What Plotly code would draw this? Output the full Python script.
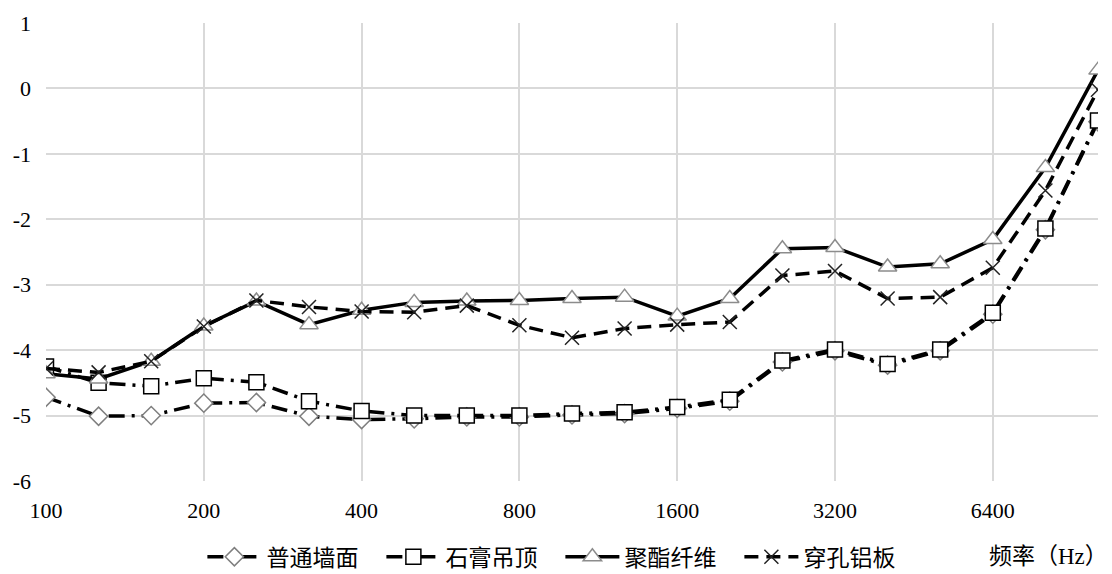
import plotly.graph_objects as go

# 1/3-octave band centre frequencies (Hz)
freqs = [100, 125, 160, 200, 250, 315, 400, 500, 630, 800, 1000, 1250,
         1600, 2000, 2500, 3150, 4000, 5000, 6300, 8000, 10000]
# plot positions on a log axis (exact 1/3-octave spacing)
xpos = [100 * 2 ** (i / 3) for i in range(len(freqs))]

tick_labels = [100, 200, 400, 800, 1600, 3200, 6400]
y_ticks = [1, 0, -1, -2, -3, -4, -5, -6]

wall = [-4.72, -5.01, -5.00, -4.81, -4.80, -5.01, -5.06, -5.05, -5.02, -5.02,
        -4.99, -4.97, -4.89, -4.78, -4.18, -4.01, -4.23, -4.01, -3.45, -2.16, -0.51]
gypsum = [-4.25, -4.50, -4.55, -4.43, -4.49, -4.78, -4.93, -5.00, -5.00, -5.00,
          -4.97, -4.95, -4.87, -4.76, -4.16, -3.99, -4.21, -3.99, -3.43, -2.14, -0.49]
polyester = [-4.36, -4.44, -4.17, -3.63, -3.25, -3.61, -3.39, -3.27, -3.25, -3.24,
             -3.21, -3.19, -3.48, -3.21, -2.45, -2.43, -2.73, -2.68, -2.31, -1.21, 0.28]
alu = [-4.28, -4.34, -4.17, -3.64, -3.24, -3.34, -3.41, -3.42, -3.32, -3.62,
       -3.81, -3.67, -3.61, -3.57, -2.86, -2.79, -3.21, -3.19, -2.74, -1.56, -0.02]

names = ["普通墙面", "石膏吊顶", "聚酯纤维", "穿孔铝板"]

cjk = "Liberation Serif, Noto Sans CJK SC"

fig = go.Figure()
fig.add_trace(go.Scatter(
    x=xpos, y=wall, name=names[0], mode="lines+markers",
    line=dict(color="black", width=3.5, dash="16px,7px,3px,7px"),
    marker=dict(symbol="diamond", size=14, color="white",
                line=dict(color="#7f7f7f", width=1.5))))
fig.add_trace(go.Scatter(
    x=xpos, y=gypsum, name=names[1], mode="lines+markers",
    line=dict(color="black", width=3.5, dash="16px,7px,3px,7px"),
    marker=dict(symbol="square", size=15, color="white",
                line=dict(color="black", width=1.5))))
fig.add_trace(go.Scatter(
    x=xpos, y=polyester, name=names[2], mode="lines+markers",
    line=dict(color="black", width=3.5),
    marker=dict(symbol="triangle-up", size=16, color="white",
                line=dict(color="#8c8c8c", width=1.5))))
fig.add_trace(go.Scatter(
    x=xpos, y=alu, name=names[3], mode="lines+markers",
    line=dict(color="black", width=3.5, dash="14px,8px"),
    marker=dict(symbol="x-thin", size=14, color="black",
                line=dict(color="#222222", width=1.5))))

fig.update_layout(
    width=1112, height=574,
    paper_bgcolor="white", plot_bgcolor="white",
    margin=dict(l=46, r=14, t=23, b=93, autoexpand=False),
    font=dict(family=cjk, size=18, color="black"),
    legend=dict(orientation="h", xref="container", yref="container",
                x=0.182, xanchor="left", y=0.03, yanchor="middle",
                font=dict(family=cjk, size=23), itemwidth=54,
                entrywidth=110, entrywidthmode="pixels",
                tracegroupgap=0, traceorder="normal"),
    showlegend=True,
)
fig.update_xaxes(
    type="log", range=[2, 2 + 20 / 3 * 0.30103],
    tickvals=tick_labels, ticktext=[str(t) for t in tick_labels],
    showgrid=True, gridcolor="#d9d9d9", gridwidth=1.5,
    showline=False, zeroline=False, ticks="", automargin=False,
    ticklabelstandoff=14,
    tickfont=dict(family="Liberation Serif", size=22, color="black"))
fig.update_yaxes(
    range=[-6, 1], tickvals=y_ticks, ticktext=[str(t) for t in y_ticks],
    showgrid=True, gridcolor="#d9d9d9", gridwidth=1.5,
    showline=False, zeroline=False, ticks="", automargin=False,
    ticklabelstandoff=14,
    tickfont=dict(family="Liberation Serif", size=22, color="black"))

fig.add_annotation(
    text="频率（Hz）", xref="paper", yref="paper", x=1.011, y=-0.164,
    xanchor="right", yanchor="middle", showarrow=False,
    font=dict(family=cjk, size=23, color="black"))

fig.write_html("out.html", config={"displayModeBar": False},
               post_script="document.body.style.margin='0';document.body.style.padding='0';")
